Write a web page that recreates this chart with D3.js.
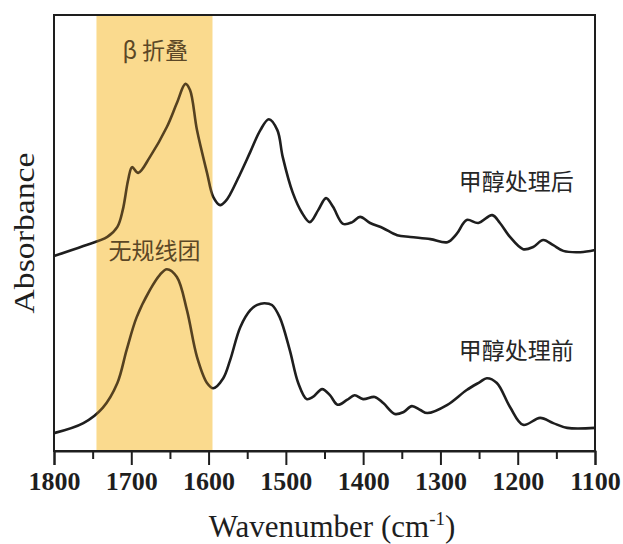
<!DOCTYPE html>
<html>
<head>
<meta charset="utf-8">
<script src="https://cdn.jsdelivr.net/npm/d3@7"></script>
<style>
  html, body { margin: 0; padding: 0; background: #fff; }
  svg { display: block; }
</style>
</head>
<body>
<svg id="chart" width="623" height="544"></svg>
<script>
// FTIR spectra before / after methanol treatment (absorbance, arbitrary units)
const majorTicks = [1800, 1700, 1600, 1500, 1400, 1300, 1200, 1100];
const minorTicks = [1750, 1650, 1550, 1450, 1350, 1250, 1150];

// Amide I region highlighted (β-sheet / random coil)
const bandRange = [1745, 1595];

// After methanol treatment (upper trace)
const afterWn = [1800,1762,1731,1718,1711,1704,1699,1691,1676,1654,1641,1630,1624,1615,1602,1594,1585,1578,1572,1559,1546,1533,1522,1511,1504,1491,1479,1469,1458,1448,1439,1426,1414,1404,1391,1374,1356,1339,1313,1291,1279,1266,1251,1233,1223,1210,1193,1180,1167,1154,1141,1119,1100];
const afterAbs = [.447,.470,.491,.514,.553,.622,.651,.638,.674,.743,.798,.842,.828,.736,.638,.583,.564,.573,.589,.636,.686,.736,.761,.736,.674,.592,.546,.525,.553,.580,.560,.521,.525,.537,.523,.511,.495,.491,.486,.479,.498,.530,.523,.541,.523,.491,.463,.468,.484,.472,.459,.456,.461];

// Before methanol treatment (lower trace)
const beforeWn = [1800,1762,1737,1718,1706,1693,1676,1663,1654,1641,1628,1615,1602,1594,1581,1572,1559,1546,1537,1528,1518,1508,1495,1484,1473,1465,1453,1443,1433,1421,1411,1400,1385,1374,1359,1348,1337,1326,1317,1291,1266,1249,1240,1227,1210,1193,1171,1154,1136,1100];
const beforeAbs = [.041,.064,.099,.156,.232,.307,.369,.404,.417,.399,.323,.216,.156,.144,.167,.209,.284,.323,.335,.339,.335,.307,.232,.156,.119,.124,.142,.128,.106,.117,.128,.119,.124,.110,.085,.089,.103,.094,.087,.106,.140,.158,.167,.156,.101,.060,.076,.064,.053,.053];

const labels = {
  beta: "β 折叠",
  coil: "无规线团",
  after: "甲醇处理后",
  before: "甲醇处理前"
};

const svg = d3.select("#chart");
const m = { left: 54, right: 595, top: 15, bottom: 451 };

const x = d3.scaleLinear().domain([1800, 1100]).range([m.left, m.right]);
const y = d3.scaleLinear().domain([0, 1]).range([m.bottom, m.top]);

const line = d3.line()
  .x(d => x(d[0]))
  .y(d => y(d[1]))
  .curve(d3.curveCatmullRom.alpha(0.5));

const ink = "#1e1e1e";
const cjk = "'Noto Sans CJK SC', 'Noto Sans', sans-serif";
const serif = "'Liberation Serif', 'Times New Roman', serif";

const bandX = x(bandRange[0]);
const bandW = x(bandRange[1]) - x(bandRange[0]);

// pale band underneath the traces
svg.append("rect")
  .attr("x", bandX).attr("y", m.top)
  .attr("width", bandW).attr("height", m.bottom - m.top)
  .attr("fill", "rgb(250,234,176)");

// spectra
const series = [
  d3.zip(afterWn, afterAbs),
  d3.zip(beforeWn, beforeAbs)
];
svg.append("g").selectAll("path")
  .data(series)
  .join("path")
  .attr("d", line)
  .attr("fill", "none")
  .attr("stroke", ink)
  .attr("stroke-width", 2.6)
  .attr("stroke-linejoin", "round");

// curve labels
const txt = svg.append("g").attr("font-family", cjk).attr("font-size", 23).attr("fill", "#262626");
txt.append("text").attr("x", x(1669)).attr("y", 59).attr("text-anchor", "middle").text(labels.beta);
txt.append("text").attr("x", x(1670)).attr("y", 259).attr("text-anchor", "middle").text(labels.coil);
txt.append("text").attr("x", x(1202)).attr("y", 190).attr("text-anchor", "middle").text(labels.after);
txt.append("text").attr("x", x(1202)).attr("y", 359).attr("text-anchor", "middle").text(labels.before);

// warm tint over the band region (tints the traces and labels inside it)
svg.append("rect")
  .attr("x", bandX).attr("y", m.top)
  .attr("width", bandW).attr("height", m.bottom - m.top)
  .attr("fill", "rgb(250,170,40)")
  .attr("fill-opacity", 0.25);

// frame
svg.append("rect")
  .attr("x", m.left).attr("y", m.top)
  .attr("width", m.right - m.left).attr("height", m.bottom - m.top)
  .attr("fill", "none").attr("stroke", ink).attr("stroke-width", 2);

// bottom axis: major ticks with labels, minor ticks without
const axisMajor = d3.axisBottom(x).tickValues(majorTicks).tickSize(14).tickFormat(d3.format("d"));
const gx = svg.append("g").attr("transform", `translate(0,${m.bottom})`).call(axisMajor);
gx.select(".domain").attr("stroke", ink).attr("stroke-width", 2);
gx.selectAll(".tick line").attr("stroke", ink).attr("stroke-width", 2);
gx.selectAll(".tick text")
  .attr("y", 39).attr("dy", 0)
  .attr("font-family", serif).attr("font-weight", "bold")
  .attr("font-size", 26).attr("fill", ink);

const axisMinor = d3.axisBottom(x).tickValues(minorTicks).tickSize(8).tickFormat("");
const gm = svg.append("g").attr("transform", `translate(0,${m.bottom})`).call(axisMinor);
gm.select(".domain").remove();
gm.selectAll(".tick line").attr("stroke", ink).attr("stroke-width", 2);

// axis titles
const xt = svg.append("text")
  .attr("x", 332).attr("y", 537)
  .attr("text-anchor", "middle")
  .attr("font-family", serif).attr("font-size", 31).attr("fill", ink);
xt.append("tspan").text("Wavenumber (cm");
xt.append("tspan").attr("font-size", 19).attr("dy", -12).text("-1");
xt.append("tspan").attr("dy", 12).text(")");

svg.append("text")
  .attr("transform", "translate(34,233) rotate(-90)")
  .attr("text-anchor", "middle")
  .attr("font-family", serif).attr("font-size", 30).attr("fill", ink)
  .attr("textLength", 161).attr("lengthAdjust", "spacingAndGlyphs")
  .text("Absorbance");
</script>
</body>
</html>
